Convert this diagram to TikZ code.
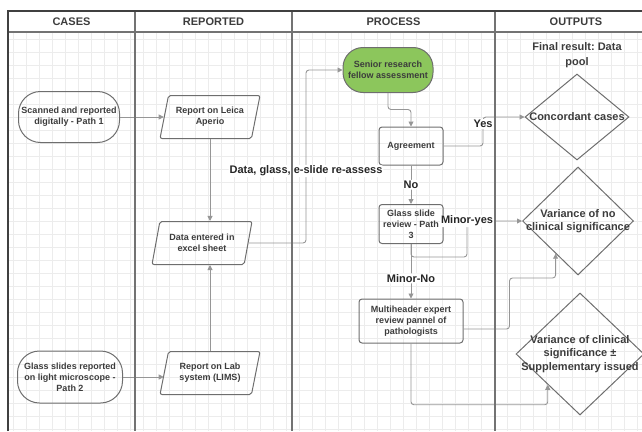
\documentclass[tikz,border=0pt]{standalone}
\usepackage{fontspec}
\setmainfont{Liberation Sans}
\usetikzlibrary{calc, shapes.geometric, arrows.meta}

\definecolor{lanegray}{RGB}{115,115,115}
\definecolor{nodegray}{RGB}{110,110,110}
\definecolor{linkgray}{RGB}{150,150,150}
\definecolor{textgray}{RGB}{60,60,60}
\definecolor{fellowgreen}{RGB}{140,198,92}
\definecolor{gridgray}{RGB}{236,236,236}

\tikzset{
	every node/.style={font=\bfseries\fontsize{9}{11}\selectfont, text=textgray, align=center},
	lanehead/.style={font=\bfseries\fontsize{11}{13}\selectfont},
	casebox/.style={rectangle, draw=nodegray, line width=1pt, rounded corners=22pt, inner sep=2pt},
	reportbox/.style={trapezium, trapezium left angle=70, trapezium right angle=110, trapezium stretches body, draw=nodegray, line width=1pt, rounded corners=2pt, inner sep=2pt, minimum width=100pt, minimum height=43pt},
	procbox/.style={rectangle, draw=nodegray, line width=1pt, rounded corners=3pt, inner sep=2pt},
	outbox/.style={diamond, draw=nodegray, line width=1pt, inner sep=0pt},
	outtext/.style={font=\bfseries\fontsize{11}{13.5}\selectfont},
	linklabel/.style={font=\bfseries\fontsize{11}{13}\selectfont, text=black!85, fill=white, inner sep=1pt},
	link/.style={draw=linkgray, line width=0.9pt, rounded corners=3pt, -{Triangle[length=5pt, width=5pt]}},
	gridline/.style={draw=gridgray, line width=0.4pt},
	laneline/.style={draw=lanegray, line width=1.3pt}
}

\begin{document}
\frenchspacing
\begin{tikzpicture}[x=1pt, y=-1pt]
	%size of the page
	\useasboundingbox (0,0) rectangle (642,431);
	
	%definition of the lanes
	\def\xL{8}
	\def\xA{135}
	\def\xB{292}
	\def\xC{495}
	\def\xR{642}
	\def\yT{11}
	\def\yH{32}
	\def\yB{431}
	
	%grid
	\draw[gridline] (\xL,\yH) grid[step=13pt] (\xR,\yB);
	
	%lane headers
	\node[lanehead] (hcases) at ({(\xL+\xA)/2},22) {CASES};
	\node[lanehead] (hreported) at ({(\xA+\xB)/2},22) {REPORTED};
	\node[lanehead] (hprocess) at ({(\xB+\xC)/2},22) {PROCESS};
	\node[lanehead] (houtputs) at (576,22) {OUTPUTS};
	
	%cases
	\node[casebox, minimum width=101pt, minimum height=51pt] (path1) at (69,117) {Scanned and reported\\digitally - Path 1};
	\node[casebox, minimum width=105pt, minimum height=52pt] (path2) at (70,377) {Glass slides reported\\on light microscope -\\Path 2};
	
	%reported
	\node[reportbox] (leica) at (210,117) {Report on Leica\\Aperio};
	\node[reportbox] (excel) at (202,243) {Data entered in\\excel sheet};
	\node[reportbox] (lims) at (210,373) {Report on Lab\\system (LIMS)};
	
	%process
	\node[casebox, fill=fellowgreen, rounded corners=20pt, minimum width=90pt, minimum height=45pt] (senior) at (388,70) {Senior research\\fellow assessment};
	\node[procbox, minimum width=64pt, minimum height=38pt] (agree) at (411,146) {Agreement};
	\node[procbox, minimum width=64pt, minimum height=39pt] (glass) at (411,224) {Glass slide\\review - Path\\3};
	\node[procbox, minimum width=104pt, minimum height=44pt] (multi) at (411,321) {Multiheader expert\\review pannel of\\pathologists};
	
	%outputs
	\node[outtext, font=\bfseries\fontsize{11}{15}\selectfont] (final) at (577,55) {Final result: Data\\pool};
	\node[outbox, minimum width=104pt, minimum height=86pt, label={[outtext]center:Concordant cases}] (concord) at (577,117) {};
	\node[outbox, minimum width=111pt, minimum height=108pt, label={[outtext]center:{Variance of no\\clinical significance}}] (varno) at (578,221) {};
	\node[outbox, minimum width=128pt, minimum height=122pt, label={[outtext]center:{Variance of clinical\\significance ±\\Supplementary issued}}] (varcl) at (580,354) {};
	
	\coordinate (noclin) at ($(varno.south)!0.4!(varno.west)$);
	\coordinate (clin) at ($(varcl.south)!0.5!(varcl.west)$);
	
	%connectors
	\draw[link] (path1) -- (path1 -| leica.west);
	\draw[link] (path2) -- (path2 -| lims.west);
	\draw[link] (leica.south) -- (leica.south |- excel.north);
	\draw[link] (lims.north) -- (lims.north |- excel.south);
	\draw[link] (excel.east) -| (306,171) node[linklabel] (reassess) {Data, glass, e-slide re-assess} |- (senior.west);
	\draw[link] (senior.south) |- ($(agree.north)+(0,-17)$) -- (agree.north);
	\draw[link] (agree.east) -| (483,124) node[linklabel] (yes) {Yes} |- (concord.west);
	\draw[link] (agree.south) -- node[linklabel] (no) {No} (glass.north);
	\draw[link] (glass.south) -- (411,257) -| (467,221) node[linklabel] (minoryes) {Minor-yes} -- (varno.west);
	\draw[link] (glass.south) -- node[linklabel, pos=0.63] (minorno) {Minor-No} (multi.north);
	\draw[link] ($(multi.east)+(0,8)$) -| ++(46,-51) -| (noclin);
	\draw[link] (multi.south) |- ($(clin)+(0,20)$) -- (clin);
	
	%lanes
	\draw[laneline] (\xA,\yT) -- (\xA,\yB);
	\draw[laneline] (\xB,\yT) -- (\xB,\yB);
	\draw[laneline] (\xC,\yT) -- (\xC,\yB);
	\draw[laneline] (\xL,\yH) -- (\xR,\yH);
	\draw[laneline, draw=black!75] (\xL,\yB) -- (\xL,\yT) -- (\xR,\yT);
\end{tikzpicture}
\end{document}
